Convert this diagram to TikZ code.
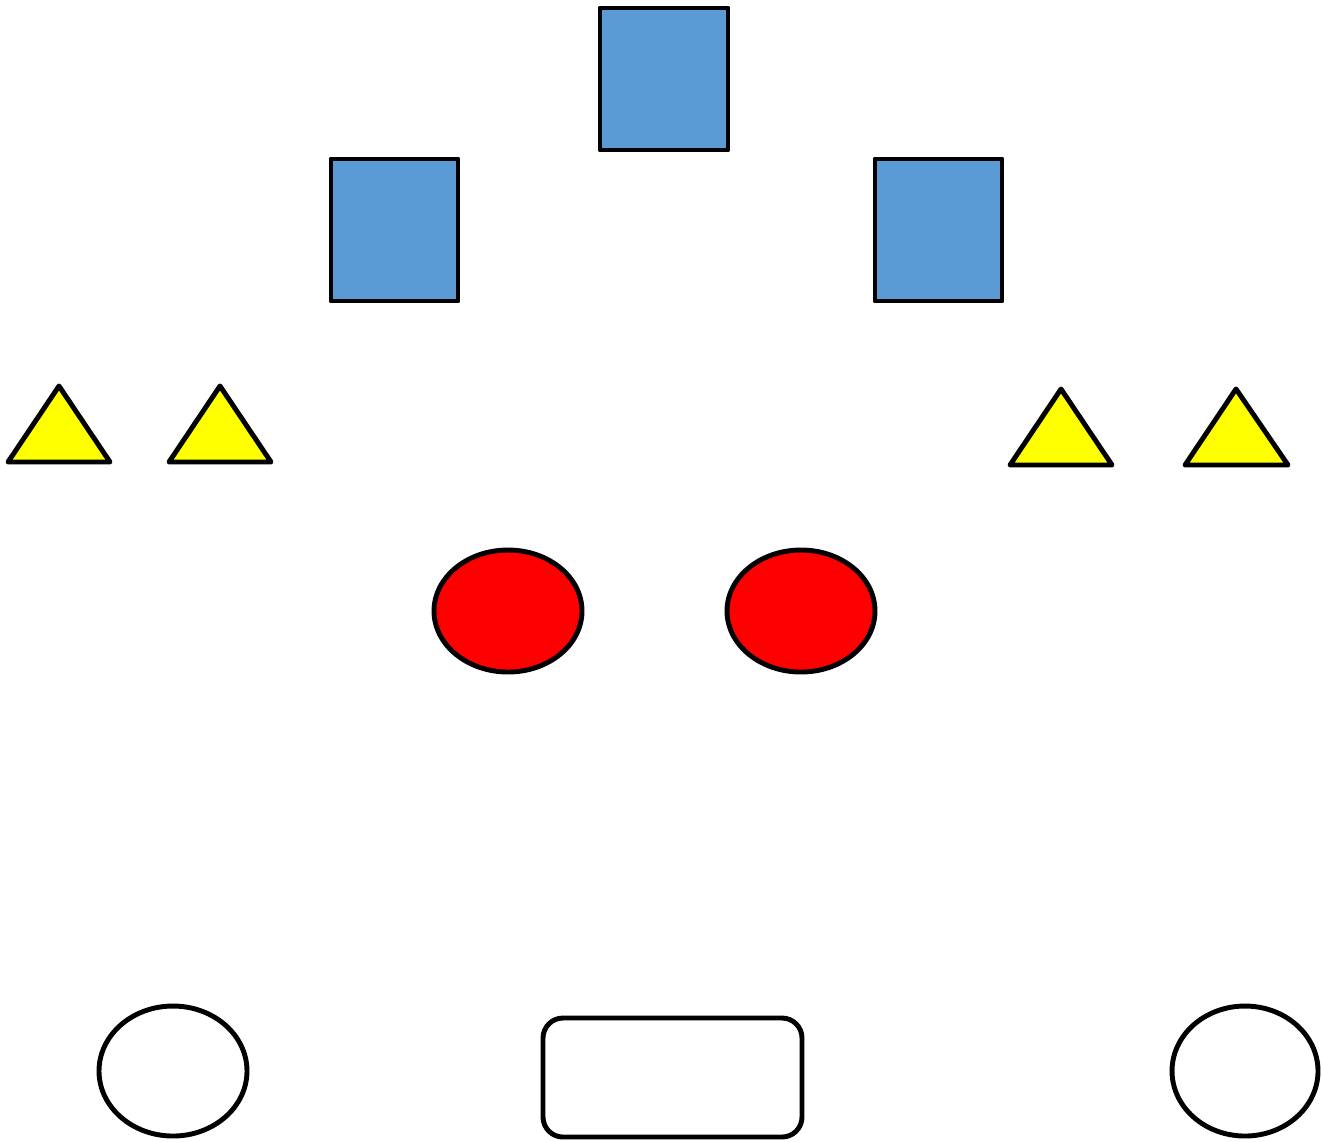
\documentclass[tikz,border=0pt]{standalone}
\definecolor{boxblue}{HTML}{5B9BD5}
\definecolor{coneyellow}{HTML}{FFFF00}
\definecolor{ballred}{HTML}{FF0000}
\tikzset{
  outline/.style={draw=black,line width=1.4pt,line join=round},
  boxshape/.style={outline,fill=boxblue},
  coneshape/.style={outline,fill=coneyellow},
  ballshape/.style={outline,fill=ballred},
  baseshape/.style={outline,fill=white}
}
\begin{document}
\begin{tikzpicture}[x=0.01cm,y=-0.01cm,line cap=round]
  \useasboundingbox (0,0) rectangle (1322,1141);
  % blue boxes
  \draw[boxshape] (600,8) rectangle (728,150);
  \draw[boxshape] (331,159) rectangle (458,301);
  \draw[boxshape] (875,159) rectangle (1002,301);
  % yellow cones
  \draw[coneshape] (8,462) -- (110,462) -- (59,386) -- cycle;
  \draw[coneshape] (169,462) -- (271,462) -- (220,386) -- cycle;
  \draw[coneshape] (1010,465) -- (1112,465) -- (1061,389) -- cycle;
  \draw[coneshape] (1185,465) -- (1288,465) -- (1236,389) -- cycle;
  % red balls
  \draw[ballshape] (508,611) ellipse [x radius=74,y radius=61];
  \draw[ballshape] (801,611) ellipse [x radius=74,y radius=61];
  % white bases
  \draw[baseshape] (173,1071) ellipse [x radius=74,y radius=65];
  \draw[baseshape] (1245,1071) ellipse [x radius=73,y radius=65];
  \draw[baseshape,rounded corners=0.2cm] (543,1018) rectangle (802,1137);
\end{tikzpicture}
\end{document}
